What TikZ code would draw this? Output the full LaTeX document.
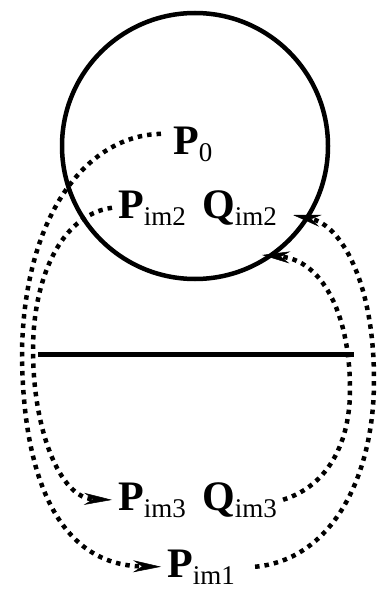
\documentclass[tikz,border=0pt]{standalone}
\usepackage{fontspec}
\setmainfont{Liberation Serif}
\usetikzlibrary{arrows.meta}
\tikzset{
  every picture/.style={line join=round, >={Stealth[length=28pt,width=12pt,inset=9pt,line width=0.5pt]}},
  lbl/.style={anchor=base west, inner xsep=6pt, inner ysep=0pt, font=\fontsize{42}{42}\selectfont\bfseries},
  route/.style={line width=4.5pt, dash pattern=on 4.5pt off 5pt},
}
\newcommand{\ptlab}[2]{#1\raisebox{-7pt}{\fontsize{27}{27}\selectfont\mdseries #2}}

\begin{document}
\begin{tikzpicture}[x=1pt,y=-1pt]
\useasboundingbox (0,0) rectangle (376,591);
\draw[line width=4.5pt](195,146)circle(133);
\draw[line width=5pt](38,354)--(354,354);
\node[lbl](p0)at(167,154){\ptlab{P}{0}};
\node[lbl](pim2)at(112,218){\ptlab{P}{im2}};
\node[lbl](qim2)at(196,218){\ptlab{Q}{im2}};
\node[lbl](pim3)at(112,510){\ptlab{P}{im3}};
\node[lbl](qim3)at(196,510){\ptlab{Q}{im3}};
\node[lbl](pim1)at(161,577){\ptlab{P}{im1}};
\coordinate(tipa)at(262,255);
\coordinate(tipb)at(293,215);
% left side, going down
\draw[route,->]([shift={(-6pt,10pt)}]p0.west)..controls(90,135)and(25,210)..(22,350)
  ..controls(22,480)and(60,565)..(pim1.west);
\draw[route,->](pim2.west)..controls(60,215)and(33,280)..(33,350)
  ..controls(33,430)and(60,498)..(pim3.west);
% right side, going up
\draw[route,->](qim3.east)..controls(330,485)and(350,440)..(350,390)
  ..controls(350,310)and(320,260)..(tipa);
\draw[route,->]([xshift=14pt]pim1.east)..controls(330,560)and(374,480)..(374,380)
  ..controls(374,280)and(340,225)..(tipb);
\end{tikzpicture}
\end{document}
